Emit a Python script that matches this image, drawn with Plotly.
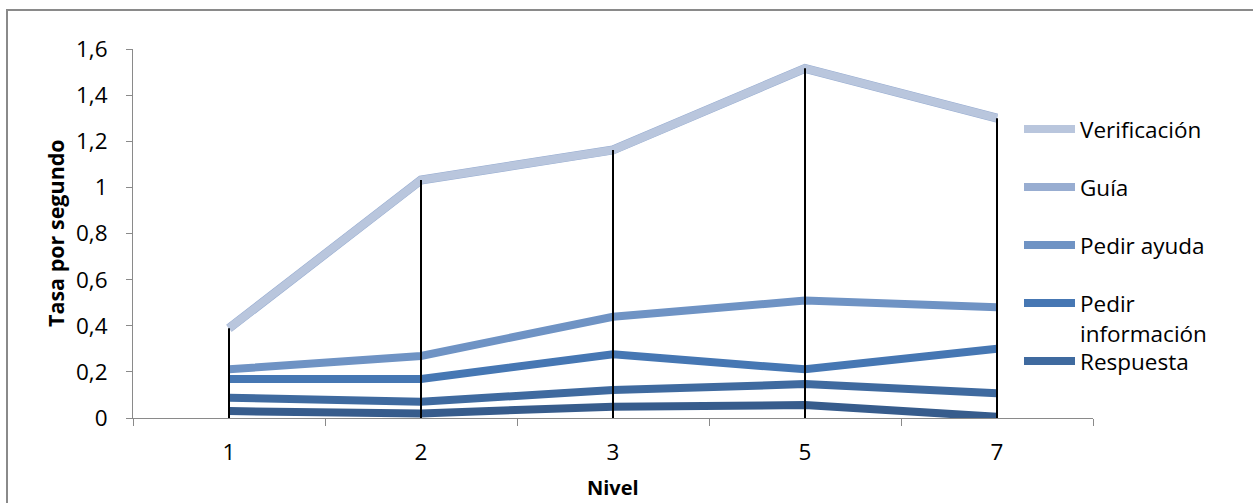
import plotly.graph_objects as go

# ---- data (cumulative values as plotted in the stacked line chart) ----
niveles = ["1", "2", "3", "5", "7"]
serie_base = [0.030, 0.020, 0.049, 0.056, 0.005]
respuesta = [0.088, 0.071, 0.121, 0.147, 0.107]
pedir_informacion = [0.169, 0.169, 0.276, 0.211, 0.300]
pedir_ayuda = [0.211, 0.269, 0.439, 0.509, 0.480]
guia = [0.389, 1.032, 1.162, 1.516, 1.300]
verificacion = [0.389, 1.032, 1.162, 1.516, 1.300]

y_tickvals = [0, 0.2, 0.4, 0.6, 0.8, 1.0, 1.2, 1.4, 1.6]
y_ticktext = ["0", "0,2", "0,4", "0,6", "0,8", "1", "1,2", "1,4", "1,6"]

legend_names = ["Verificación", "Guía", "Pedir ayuda", "Pedir información", "Respuesta"]

# ---- styles ----
FONT = "Open Sans"
FS = 22.5
AXIS_GRAY = "#8a8a8a"
colors = {
    "base": "#375c8c",
    "Respuesta": "#3f6a9f",
    "Pedir información": "#4677b3",
    "Pedir ayuda": "#6f93c4",
    "Guía": "#98add1",
    "Verificación": "#b9c6dd",
}

W, H = 1253, 503
L, R, T, B = 133, 160, 49, 85
PW, PH = W - L - R, H - T - B


def px_to_paper_x(px):
    return (px - L) / PW


def px_to_paper_y(py):
    return (H - B - py) / PH


fig = go.Figure()

series = [
    ("base", serie_base, 8),
    ("Respuesta", respuesta, 8),
    ("Pedir información", pedir_informacion, 8),
    ("Pedir ayuda", pedir_ayuda, 8),
    ("Guía", guia, 9),
    ("Verificación", verificacion, 8),
]
for name, vals, w in series:
    fig.add_trace(go.Scatter(
        x=niveles, y=vals, mode="lines", name=name,
        line=dict(color=colors[name], width=w),
        showlegend=False, hoverinfo="skip",
    ))

# drop lines from the top series down to the axis
drop_x, drop_y = [], []
for xv, top in zip(niveles, verificacion):
    drop_x += [xv, xv, None]
    drop_y += [top, 0, None]
fig.add_trace(go.Scatter(
    x=drop_x, y=drop_y, mode="lines",
    line=dict(color="black", width=2),
    showlegend=False, hoverinfo="skip",
))

shapes = []
annotations = []

# outer frame of the chart
shapes.append(dict(
    type="rect", xref="paper", yref="paper",
    x0=px_to_paper_x(7), x1=px_to_paper_x(W + 20),
    y0=px_to_paper_y(H + 20), y1=px_to_paper_y(10),
    line=dict(color="#8a8a8a", width=2), fillcolor="rgba(0,0,0,0)", layer="below",
))

# manual legend
legend_rows = [
    ("Verificación", 129, ["Verificación"], [129]),
    ("Guía", 187, ["Guía"], [187]),
    ("Pedir ayuda", 245, ["Pedir ayuda"], [245]),
    ("Pedir información", 303, ["Pedir", "información"], [303, 333]),
    ("Respuesta", 361, ["Respuesta"], [361]),
]
for name, ly, texts, tys in legend_rows:
    shapes.append(dict(
        type="line", xref="paper", yref="paper",
        x0=px_to_paper_x(1024), x1=px_to_paper_x(1075),
        y0=px_to_paper_y(ly), y1=px_to_paper_y(ly),
        line=dict(color=colors[name], width=8),
    ))
    for t, ty in zip(texts, tys):
        annotations.append(dict(
            text=t, xref="paper", yref="paper",
            x=px_to_paper_x(1078), y=px_to_paper_y(ty),
            xanchor="left", yanchor="middle", showarrow=False,
            font=dict(family=FONT, size=FS, color="black"),
        ))

# axis titles
annotations.append(dict(
    text="<b>Tasa por segundo</b>", xref="paper", yref="paper",
    x=px_to_paper_x(55), y=px_to_paper_y(233), textangle=-90,
    xanchor="center", yanchor="middle", showarrow=False,
    font=dict(family=FONT, size=FS - 1, color="black"),
))
annotations.append(dict(
    text="<b>Nivel</b>", xref="paper", yref="paper",
    x=0.5, y=px_to_paper_y(488),
    xanchor="center", yanchor="middle", showarrow=False,
    font=dict(family=FONT, size=20, color="black"),
))

fig.update_layout(
    width=W, height=H,
    margin=dict(l=L, r=R, t=T, b=B, pad=0),
    paper_bgcolor="white", plot_bgcolor="white",
    font=dict(family=FONT, size=FS, color="black"),
    showlegend=False,
    shapes=shapes, annotations=annotations,
    xaxis=dict(
        type="category", categoryorder="array", categoryarray=niveles,
        range=[-0.5, len(niveles) - 0.5],
        tickson="boundaries", ticks="outside", ticklen=7, tickcolor=AXIS_GRAY, tickwidth=1,
        showline=True, linecolor=AXIS_GRAY, linewidth=1,
        showgrid=False, zeroline=False, ticklabelstandoff=14,
        tickfont=dict(family=FONT, size=FS, color="black"),
    ),
    yaxis=dict(
        range=[0, 1.6], tickvals=y_tickvals, ticktext=y_ticktext,
        ticks="outside", ticklen=6, tickcolor=AXIS_GRAY, tickwidth=1,
        showline=True, linecolor=AXIS_GRAY, linewidth=1,
        showgrid=False, zeroline=False, ticklabelstandoff=14,
        tickfont=dict(family=FONT, size=FS, color="black"),
    ),
)

fig.write_html("out.html")
